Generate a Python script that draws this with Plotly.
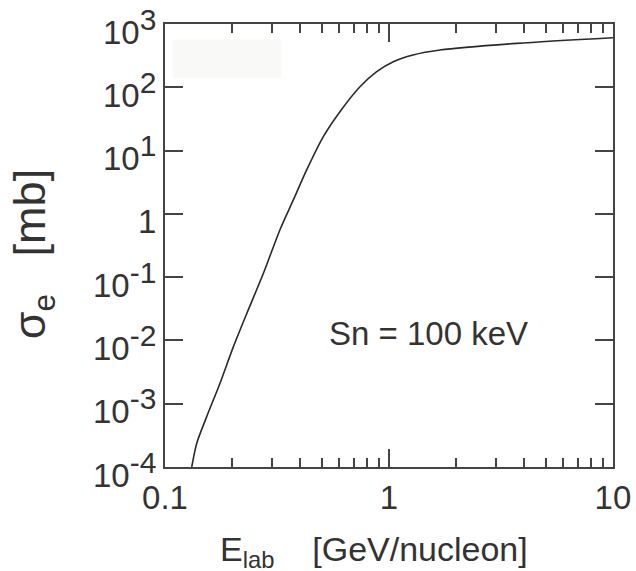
import plotly.graph_objects as go

# Data (energy in GeV/nucleon, cross section in mb)
energy = [0.1316, 0.1386, 0.1535, 0.176, 0.202, 0.232, 0.275, 0.326, 0.374, 0.429,
          0.509, 0.604, 0.742, 0.881, 1.045, 1.28, 1.69, 3.72, 10.0]
sigma = [1.0e-4, 2.38e-4, 6.25e-4, 2.11e-3, 7.98e-3, 2.69e-2, 0.115, 0.562, 1.66, 4.94,
         16.6, 41.2, 102.0, 177.0, 254.0, 324.0, 388.0, 495.0, 608.0]

x_tickvals = [0.1, 1, 10]
x_ticktext = ["0.1", "1", "10"]
x_minor = [0.2, 0.3, 0.4, 0.5, 0.6, 0.7, 0.8, 0.9, 2, 3, 4, 5, 6, 7, 8, 9]
y_tickvals = [1e-4, 1e-3, 1e-2, 1e-1, 1, 1e1, 1e2, 1e3]
y_exponents = ["-4", "-3", "-2", "-1", None, "1", "2", "3"]
annotation_text = "Sn = 100 keV"
NB = "\u00a0"
x_title = "E<sub>lab</sub>" + NB * 4 + "[GeV/nucleon]"
y_title = "σ<sub>e</sub>" + NB * 3 + "[mb]"

FONT = "Liberation Sans, Arial, sans-serif"
TXT = "#333333"
AX = "#444444"
FS = 33

y_ticktext = ["1" if e is None else
              "10<sup><span style='font-size:%dpx'>%s</span></sup>" % (FS - 3, e)
              for e in y_exponents]

fig = go.Figure()
fig.add_trace(go.Scatter(x=energy, y=sigma, mode="lines",
                         line=dict(color="#2a2a2a", width=1.6, shape="spline", smoothing=0.8),
                         showlegend=False, hoverinfo="skip"))

fig.add_shape(type="rect", xref="x domain", yref="y domain",
              x0=0.017, x1=0.26, y0=0.878, y1=0.965,
              fillcolor="#f9f9f7", line=dict(width=0), layer="below")

fig.add_annotation(x=0.589, y=0.302, xref="x domain", yref="y domain",
                   xanchor="center", yanchor="middle",
                   text=annotation_text, showarrow=False,
                   font=dict(family=FONT, size=FS, color=TXT))

fig.add_annotation(x=0.466, y=-0.19, xref="x domain", yref="y domain",
                   xanchor="center", yanchor="middle",
                   text=x_title, showarrow=False,
                   font=dict(family=FONT, size=34, color=TXT))
fig.add_annotation(x=-0.295, y=0.48, xref="x domain", yref="y domain",
                   xanchor="center", yanchor="middle",
                   text=y_title, showarrow=False, textangle=-90,
                   font=dict(family=FONT, size=45, color=TXT))

fig.update_xaxes(type="log", range=[-1.0001, 1.0001], tickvals=x_tickvals, ticktext=x_ticktext,
                 ticks="inside", ticklen=18, tickwidth=1.5, tickcolor=AX,
                 minor=dict(tickvals=x_minor, ticks="inside", ticklen=9, tickwidth=1.5, tickcolor=AX),
                 showline=True, linecolor=AX, linewidth=2, mirror="ticks",
                 showgrid=False, zeroline=False, automargin=False,
                 ticklabeloverflow="allow",
                 tickfont=dict(family=FONT, size=FS, color=TXT))
fig.update_yaxes(type="log", range=[-4.0001, 3.0001], tickvals=y_tickvals, ticktext=y_ticktext,
                 ticks="inside", ticklen=18, tickwidth=1.5, tickcolor=AX,
                 showline=True, linecolor=AX, linewidth=2, mirror="ticks",
                 showgrid=False, zeroline=False, automargin=False,
                 ticklabeloverflow="allow", ticklabelshift=8,
                 tickfont=dict(family=FONT, size=FS, color=TXT))

fig.update_layout(width=636, height=571, margin=dict(l=165, r=23, t=24, b=104),
                  plot_bgcolor="white", paper_bgcolor="white")

# remove the browser's default 8px body margin so the figure fills the window
fig.write_html("out.html", config={"displayModeBar": False},
               post_script="document.body.style.margin='0';document.body.style.overflow='hidden';")
